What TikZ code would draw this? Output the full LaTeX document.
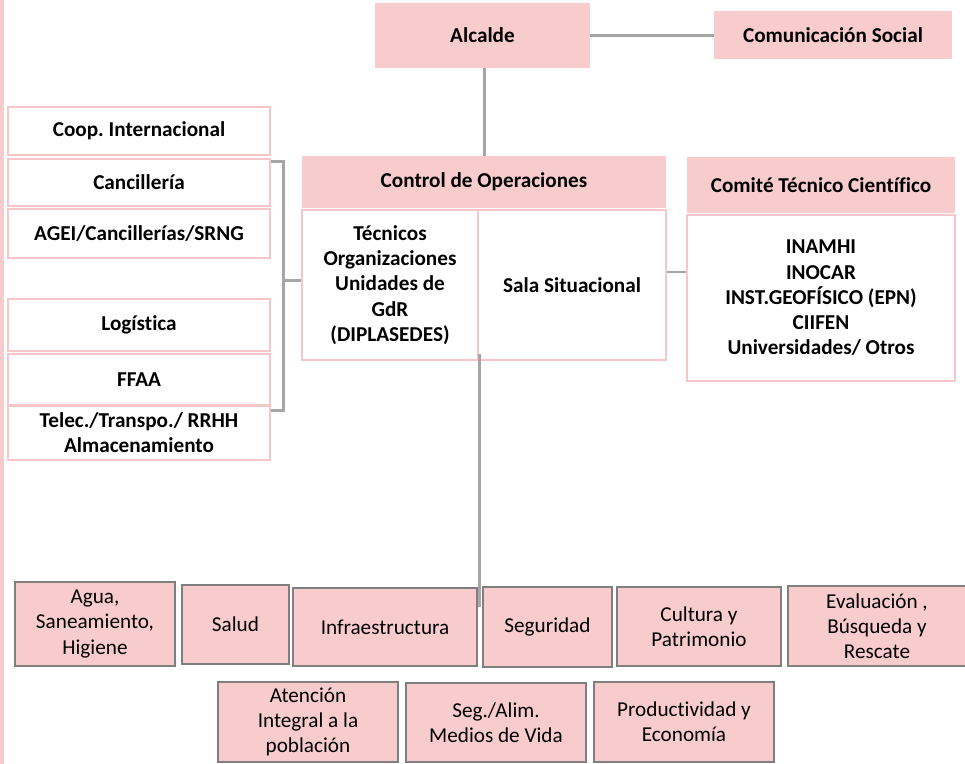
\documentclass[tikz,border=0pt]{standalone}
\usepackage{fontspec}
\setmainfont{Carlito}[Ligatures=NoCommon]
\usetikzlibrary{calc}
\frenchspacing

\definecolor{pinkfill}{HTML}{F8CBCC}
\definecolor{pinkline}{HTML}{F6C6C8}
\definecolor{linkgray}{HTML}{A6A6A6}
\definecolor{boxgray}{HTML}{7F7F7F}
\newcommand\boxfont{\fontsize{10.6}{12.6}\selectfont}

\tikzset{
  sz/.style 2 args={minimum width={#1*0.5pt}, minimum height={#2*0.5pt}},
  hdr/.style={fill=pinkfill, draw=none, font=\bfseries\boxfont, align=center, inner sep=0pt},
  wbox/.style={fill=white, draw=pinkline, line width=1pt, font=\bfseries\boxfont, align=center, inner sep=0pt},
  gbox/.style={fill=pinkfill, draw=boxgray, line width=1.25pt, font=\boxfont, align=center, inner sep=0pt},
  link/.style={draw=linkgray, line width=1.5pt},
  thinlink/.style={draw=linkgray, line width=0.9pt},
}

\begin{document}
\begin{tikzpicture}[x=0.5pt, y=-0.5pt]
\useasboundingbox (0,0) rectangle (965,764);
\fill[white] (0,0) rectangle (965,764);
% pink band along the left margin
\fill[pinkfill] (0,0) rectangle (4,764);

% top level
\node[hdr, sz={215}{65}] (alc) at (482.5,35.5) {Alcalde};
\node[hdr, sz={238}{48}] (com) at (833,35) {Comunicación Social};

% operations control
\node[hdr, sz={364}{52}] (ctl) at (484,182) {Control de Operaciones};
\node[wbox, sz={176}{150}] (tec) at (390,285) {Técnicos\\Organizaciones\\Unidades de\\GdR\\(DIPLASEDES)};
\node[wbox, sz={188}{150}] (sala) at (572,285) {Sala Situacional};

% technical-scientific committee
\node[hdr, sz={268}{56}] (cte) at (821,185) {Comité Técnico Científico};
\node[wbox, sz={268}{166}] (cts) at (821,298) {INAMHI\\INOCAR\\INST.GEOFÍSICO (EPN)\\CIIFEN\\Universidades/ Otros};

% left column
\node[wbox, sz={262}{48}] (coop) at (139,131) {Coop. Internacional};
\node[wbox, sz={262}{47}] (canc) at (139,182.5) {Cancillería};
\node[wbox, sz={262}{49}] (agei) at (139,233.5) {AGEI/Cancillerías/SRNG};
\node[wbox, sz={262}{52}] (log) at (139,325) {Logística};
\node[wbox, sz={262}{51}] (ffaa) at (139,379.5) {FFAA};
\node[wbox, sz={262}{54}] (tel) at (139,433) {Telec./Transpo./ RRHH\\Almacenamiento};

% thematic tables, first row
\node[gbox, sz={160}{84}] (agua) at (95,624) {Agua,\\Saneamiento,\\Higiene};
\node[gbox, sz={107}{79}] (sal) at (235.5,624.5) {Salud};
\node[gbox, sz={184}{78}] (inf) at (385,627) {Infraestructura};
\node[gbox, sz={129}{80}] (seg) at (547.5,627) {Seguridad};
\node[gbox, sz={164}{79}] (cul) at (699,626.5) {Cultura y\\Patrimonio};
\node[gbox, sz={178}{80}] (eva) at (877,626) {Evaluación ,\\Búsqueda y\\Rescate};

% thematic tables, second row
\node[gbox, sz={180}{80}] (ate) at (308,722) {Atención\\Integral a la\\población};
\node[gbox, sz={180}{79}] (ali) at (496,722.5) {Seg./Alim.\\Medios de Vida};
\node[gbox, sz={180}{80}] (pro) at (684,722) {Productividad y\\Economía};

% connectors
\draw[link] (alc.east) -- (alc.east -| com.west);
\draw[link] (alc.south -| ctl.north) -- (ctl.north);
\coordinate (brk) at (283,281);
\draw[link] ([yshift=-2pt]canc.north east) -| (brk) |- ([yshift=-2.5pt]ffaa.south east);
\draw[link] (brk) -- (brk -| tec.west);
\draw[thinlink] ([yshift=6.5pt]sala.east) -- ([yshift=6.5pt]sala.east -| cts.west);
\coordinate (drop) at (478,607);
\draw[link] ([yshift=3.5pt]tec.south east) -- (tec.south east |- drop);
\end{tikzpicture}
\end{document}
